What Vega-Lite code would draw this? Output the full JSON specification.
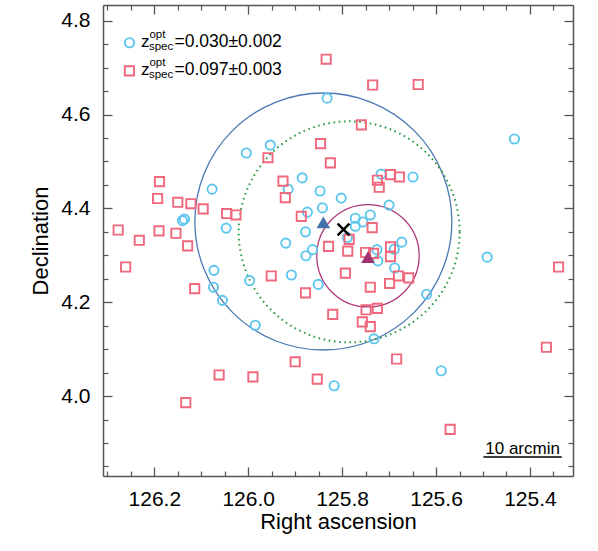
{
  "$schema": "https://vega.github.io/schema/vega-lite/v6.json",
  "width": 470,
  "height": 471,
  "autosize": {"type": "none"},
  "padding": {"left": 103, "top": 5, "right": 25, "bottom": 75},
  "background": "white",
  "config": {"view": {"stroke": null}, "font": "Liberation Sans", "axis": {"grid": false}},
  "datasets": {
    "galaxies": [
      {"kind": "low", "ra": 125.832, "dec": 4.635}, {"kind": "low", "ra": 125.433, "dec": 4.548}, {"kind": "low", "ra": 125.953, "dec": 4.535},
      {"kind": "low", "ra": 126.004, "dec": 4.518}, {"kind": "low", "ra": 125.885, "dec": 4.465}, {"kind": "low", "ra": 125.717, "dec": 4.473},
      {"kind": "low", "ra": 125.649, "dec": 4.467}, {"kind": "low", "ra": 125.915, "dec": 4.441}, {"kind": "low", "ra": 126.077, "dec": 4.441},
      {"kind": "low", "ra": 125.847, "dec": 4.437}, {"kind": "low", "ra": 125.802, "dec": 4.422}, {"kind": "low", "ra": 125.700, "dec": 4.407},
      {"kind": "low", "ra": 125.842, "dec": 4.401}, {"kind": "low", "ra": 125.874, "dec": 4.392}, {"kind": "low", "ra": 126.136, "dec": 4.377},
      {"kind": "low", "ra": 126.140, "dec": 4.374}, {"kind": "low", "ra": 125.772, "dec": 4.379}, {"kind": "low", "ra": 125.740, "dec": 4.386},
      {"kind": "low", "ra": 125.756, "dec": 4.371}, {"kind": "low", "ra": 125.772, "dec": 4.362}, {"kind": "low", "ra": 126.047, "dec": 4.358},
      {"kind": "low", "ra": 125.878, "dec": 4.350}, {"kind": "low", "ra": 125.789, "dec": 4.338}, {"kind": "low", "ra": 125.673, "dec": 4.328},
      {"kind": "low", "ra": 125.920, "dec": 4.326}, {"kind": "low", "ra": 125.689, "dec": 4.313}, {"kind": "low", "ra": 125.726, "dec": 4.312},
      {"kind": "low", "ra": 125.863, "dec": 4.312}, {"kind": "low", "ra": 125.877, "dec": 4.299}, {"kind": "low", "ra": 125.724, "dec": 4.288},
      {"kind": "low", "ra": 125.491, "dec": 4.296}, {"kind": "low", "ra": 125.688, "dec": 4.273}, {"kind": "low", "ra": 126.073, "dec": 4.268},
      {"kind": "low", "ra": 125.908, "dec": 4.258}, {"kind": "low", "ra": 125.997, "dec": 4.246}, {"kind": "low", "ra": 125.851, "dec": 4.238},
      {"kind": "low", "ra": 126.074, "dec": 4.232}, {"kind": "low", "ra": 125.620, "dec": 4.217}, {"kind": "low", "ra": 126.055, "dec": 4.204},
      {"kind": "low", "ra": 125.985, "dec": 4.151}, {"kind": "low", "ra": 125.732, "dec": 4.122}, {"kind": "low", "ra": 125.589, "dec": 4.054},
      {"kind": "low", "ra": 125.817, "dec": 4.022},
      {"kind": "high", "ra": 125.834, "dec": 4.718}, {"kind": "high", "ra": 125.735, "dec": 4.663}, {"kind": "high", "ra": 125.638, "dec": 4.664},
      {"kind": "high", "ra": 125.759, "dec": 4.578}, {"kind": "high", "ra": 125.846, "dec": 4.538}, {"kind": "high", "ra": 125.958, "dec": 4.508},
      {"kind": "high", "ra": 125.825, "dec": 4.497}, {"kind": "high", "ra": 126.189, "dec": 4.457}, {"kind": "high", "ra": 125.926, "dec": 4.458},
      {"kind": "high", "ra": 125.725, "dec": 4.460}, {"kind": "high", "ra": 125.697, "dec": 4.472}, {"kind": "high", "ra": 125.678, "dec": 4.467},
      {"kind": "high", "ra": 125.721, "dec": 4.445}, {"kind": "high", "ra": 125.921, "dec": 4.423}, {"kind": "high", "ra": 126.193, "dec": 4.421},
      {"kind": "high", "ra": 126.150, "dec": 4.413}, {"kind": "high", "ra": 126.122, "dec": 4.410}, {"kind": "high", "ra": 126.096, "dec": 4.399},
      {"kind": "high", "ra": 125.887, "dec": 4.383}, {"kind": "high", "ra": 126.046, "dec": 4.389}, {"kind": "high", "ra": 126.026, "dec": 4.386},
      {"kind": "high", "ra": 125.736, "dec": 4.359}, {"kind": "high", "ra": 126.277, "dec": 4.354}, {"kind": "high", "ra": 126.190, "dec": 4.352},
      {"kind": "high", "ra": 126.154, "dec": 4.347}, {"kind": "high", "ra": 125.785, "dec": 4.334}, {"kind": "high", "ra": 126.232, "dec": 4.332},
      {"kind": "high", "ra": 126.129, "dec": 4.320}, {"kind": "high", "ra": 125.829, "dec": 4.319}, {"kind": "high", "ra": 125.788, "dec": 4.309},
      {"kind": "high", "ra": 125.697, "dec": 4.318}, {"kind": "high", "ra": 125.750, "dec": 4.306}, {"kind": "high", "ra": 125.733, "dec": 4.304},
      {"kind": "high", "ra": 125.697, "dec": 4.297}, {"kind": "high", "ra": 125.339, "dec": 4.275}, {"kind": "high", "ra": 126.261, "dec": 4.275},
      {"kind": "high", "ra": 125.793, "dec": 4.262}, {"kind": "high", "ra": 125.951, "dec": 4.256}, {"kind": "high", "ra": 125.680, "dec": 4.256},
      {"kind": "high", "ra": 125.658, "dec": 4.252}, {"kind": "high", "ra": 125.699, "dec": 4.240}, {"kind": "high", "ra": 125.740, "dec": 4.232},
      {"kind": "high", "ra": 126.114, "dec": 4.229}, {"kind": "high", "ra": 125.878, "dec": 4.220}, {"kind": "high", "ra": 125.749, "dec": 4.184},
      {"kind": "high", "ra": 125.725, "dec": 4.187}, {"kind": "high", "ra": 125.820, "dec": 4.174}, {"kind": "high", "ra": 125.757, "dec": 4.158},
      {"kind": "high", "ra": 125.740, "dec": 4.148}, {"kind": "high", "ra": 125.365, "dec": 4.104}, {"kind": "high", "ra": 125.900, "dec": 4.073},
      {"kind": "high", "ra": 125.684, "dec": 4.079}, {"kind": "high", "ra": 126.062, "dec": 4.045}, {"kind": "high", "ra": 125.990, "dec": 4.041},
      {"kind": "high", "ra": 125.853, "dec": 4.036}, {"kind": "high", "ra": 126.133, "dec": 3.986}, {"kind": "high", "ra": 125.570, "dec": 3.929}
    ],
    "regions": [
      {"name": "blue", "ra": 125.840, "dec": 4.372},
      {"name": "green", "ra": 125.785, "dec": 4.350},
      {"name": "magenta", "ra": 125.745, "dec": 4.299}
    ],
    "markers": [
      {"name": "blue", "ra": 125.840, "dec": 4.370},
      {"name": "magenta", "ra": 125.745, "dec": 4.296},
      {"name": "x", "ra": 125.797, "dec": 4.355}
    ],
    "legend": [
      {"kind": "low", "ra": 126.253, "dec": 4.753, "val": "=0.030±0.002"},
      {"kind": "high", "ra": 126.253, "dec": 4.693, "val": "=0.097±0.003"}
    ],
    "scalebar": [
      {"ra": 125.4990, "ra2": 125.3323, "rac": 125.4157, "dec": 3.870, "label": "10 arcmin"}
    ]
  },
  "encoding": {
    "x": {"field": "ra", "type": "quantitative", "scale": {"domain": [125.3083, 126.3093], "reverse": true, "nice": false, "zero": false}, "axis": null},
    "y": {"field": "dec", "type": "quantitative", "scale": {"domain": [3.8296, 4.8335], "nice": false, "zero": false}, "axis": null}
  },
  "layer": [
    {
      "data": {"name": "regions"},
      "transform": [{"filter": "datum.name === 'blue'"}],
      "mark": {"type": "point", "shape": "circle", "filled": false, "size": 66049, "stroke": "#4a78b4", "strokeWidth": 1.3, "opacity": 1},
      "encoding": {
        "x": {"field": "ra", "type": "quantitative", "scale": {"domain": [125.3083, 126.3093], "reverse": true, "nice": false, "zero": false},
          "axis": {"orient": "bottom", "values": [126.2, 126.0, 125.8, 125.6, 125.4],
            "labels": false, "domain": false, "ticks": true, "tickColor": "#555", "tickWidth": 1.3, "tickSize": -9, "title": null, "grid": false}},
        "y": {"field": "dec", "type": "quantitative", "scale": {"domain": [3.8296, 4.8335], "nice": false, "zero": false},
          "axis": {"orient": "left", "values": [4.0, 4.2, 4.4, 4.6, 4.8],
            "labels": false, "domain": false, "ticks": true, "tickColor": "#555", "tickWidth": 1.3, "tickSize": -9, "title": null, "grid": false}}
      }
    },
    {
      "data": {"name": "regions"},
      "transform": [{"filter": "datum.name === 'green'"}],
      "mark": {"type": "point", "shape": "circle", "filled": false, "size": 48841, "stroke": "#2e9a44", "strokeWidth": 2, "strokeDash": [1.6, 3.6], "opacity": 1},
      "encoding": {
        "x": {"field": "ra", "type": "quantitative", "scale": {"domain": [125.3083, 126.3093], "reverse": true, "nice": false, "zero": false},
          "axis": {"orient": "top", "values": [126.2, 126.0, 125.8, 125.6, 125.4],
            "labels": false, "domain": true, "domainColor": "#555", "domainWidth": 1.5, "ticks": true, "tickColor": "#555", "tickWidth": 1.3, "tickSize": -9, "title": null, "grid": false}},
        "y": {"field": "dec", "type": "quantitative", "scale": {"domain": [3.8296, 4.8335], "nice": false, "zero": false},
          "axis": {"orient": "right", "values": [4.0, 4.2, 4.4, 4.6, 4.8],
            "labels": false, "domain": true, "domainColor": "#555", "domainWidth": 1.5, "ticks": true, "tickColor": "#555", "tickWidth": 1.3, "tickSize": -9, "title": null, "grid": false}}
      }
    },
    {
      "data": {"name": "regions"},
      "transform": [{"filter": "datum.name === 'magenta'"}],
      "mark": {"type": "point", "shape": "circle", "filled": false, "size": 10486, "stroke": "#b03a7c", "strokeWidth": 1.3, "opacity": 1},
      "encoding": {
        "x": {"field": "ra", "type": "quantitative", "scale": {"domain": [125.3083, 126.3093], "reverse": true, "nice": false, "zero": false},
          "axis": {"orient": "bottom", "values": [126.3, 126.25, 126.15, 126.1, 126.05, 125.95, 125.9, 125.85, 125.75, 125.7, 125.65, 125.55, 125.5, 125.45, 125.35],
            "labels": false, "domain": false, "ticks": true, "tickColor": "#555", "tickWidth": 1.2, "tickSize": -5, "title": null, "grid": false}},
        "y": {"field": "dec", "type": "quantitative", "scale": {"domain": [3.8296, 4.8335], "nice": false, "zero": false},
          "axis": {"orient": "left", "values": [3.85, 3.9, 3.95, 4.05, 4.1, 4.15, 4.25, 4.3, 4.35, 4.45, 4.5, 4.55, 4.65, 4.7, 4.75],
            "labels": false, "domain": false, "ticks": true, "tickColor": "#555", "tickWidth": 1.2, "tickSize": -5, "title": null, "grid": false}}
      }
    },
    {
      "data": {"name": "galaxies"},
      "transform": [{"filter": "datum.kind === 'low'"}],
      "mark": {"type": "point", "shape": "circle", "filled": false, "size": 85, "stroke": "#5cc6ee", "strokeWidth": 1.9, "opacity": 1},
      "encoding": {
        "x": {"field": "ra", "type": "quantitative", "scale": {"domain": [125.3083, 126.3093], "reverse": true, "nice": false, "zero": false},
          "axis": {"orient": "bottom", "values": [126.2, 126.0, 125.8, 125.6, 125.4], "format": ".1f", "ticks": false, "domain": true, "domainColor": "#555", "domainWidth": 1.5,
            "labelFontSize": 21, "labelColor": "black", "labelPadding": 12, "labelFont": "Liberation Sans", "labelFlush": false, "labelOverlap": false,
            "title": "Right ascension", "titleFontSize": 22, "titleFontWeight": "normal", "titleColor": "black", "titleFont": "Liberation Sans", "titlePadding": 2, "grid": false}},
        "y": {"field": "dec", "type": "quantitative", "scale": {"domain": [3.8296, 4.8335], "nice": false, "zero": false},
          "axis": {"orient": "left", "values": [4.0, 4.2, 4.4, 4.6, 4.8], "format": ".1f", "ticks": false, "domain": true, "domainColor": "#555", "domainWidth": 1.5,
            "labelFontSize": 21, "labelColor": "black", "labelPadding": 13, "labelFont": "Liberation Sans", "labelFlush": false, "labelOverlap": false,
            "title": "Declination", "titleFontSize": 22, "titleFontWeight": "normal", "titleColor": "black", "titleFont": "Liberation Sans", "titlePadding": 8, "grid": false}}
      }
    },
    {
      "data": {"name": "galaxies"},
      "transform": [{"filter": "datum.kind === 'high'"}],
      "mark": {"type": "point", "shape": "square", "filled": false, "size": 85, "stroke": "#f0687c", "strokeWidth": 1.9, "opacity": 1},
      "encoding": {
        "x": {"field": "ra", "type": "quantitative", "scale": {"domain": [125.3083, 126.3093], "reverse": true, "nice": false, "zero": false},
          "axis": {"orient": "top", "values": [126.3, 126.25, 126.15, 126.1, 126.05, 125.95, 125.9, 125.85, 125.75, 125.7, 125.65, 125.55, 125.5, 125.45, 125.35],
            "labels": false, "domain": false, "ticks": true, "tickColor": "#555", "tickWidth": 1.2, "tickSize": -5, "title": null, "grid": false}},
        "y": {"field": "dec", "type": "quantitative", "scale": {"domain": [3.8296, 4.8335], "nice": false, "zero": false},
          "axis": {"orient": "right", "values": [3.85, 3.9, 3.95, 4.05, 4.1, 4.15, 4.25, 4.3, 4.35, 4.45, 4.5, 4.55, 4.65, 4.7, 4.75],
            "labels": false, "domain": false, "ticks": true, "tickColor": "#555", "tickWidth": 1.2, "tickSize": -5, "title": null, "grid": false}}
      }
    },
    {
      "data": {"name": "markers"},
      "transform": [{"filter": "datum.name === 'blue'"}],
      "mark": {"type": "point", "shape": "triangle-up", "filled": true, "size": 185, "color": "#4472ad", "opacity": 1}
    },
    {
      "data": {"name": "markers"},
      "transform": [{"filter": "datum.name === 'magenta'"}],
      "mark": {"type": "point", "shape": "triangle-up", "filled": true, "size": 185, "color": "#a22f6f", "opacity": 1}
    },
    {
      "data": {"name": "markers"},
      "transform": [{"filter": "datum.name === 'x'"}],
      "mark": {"type": "point", "shape": "M-1,-1L1,1M-1,1L1,-1", "filled": false, "size": 140, "stroke": "black", "strokeWidth": 2.5, "opacity": 1}
    },
    {
      "data": {"name": "legend"},
      "transform": [{"filter": "datum.kind === 'low'"}],
      "mark": {"type": "point", "shape": "circle", "filled": false, "size": 85, "stroke": "#5cc6ee", "strokeWidth": 1.9, "opacity": 1}
    },
    {
      "data": {"name": "legend"},
      "transform": [{"filter": "datum.kind === 'high'"}],
      "mark": {"type": "point", "shape": "square", "filled": false, "size": 85, "stroke": "#f0687c", "strokeWidth": 1.9, "opacity": 1}
    },
    {
      "data": {"name": "legend"},
      "mark": {"type": "text", "text": "z", "align": "left", "baseline": "alphabetic", "dx": 11.5, "dy": 4.5, "fontSize": 17, "font": "Liberation Sans", "color": "black"}
    },
    {
      "data": {"name": "legend"},
      "mark": {"type": "text", "text": "opt", "align": "left", "baseline": "alphabetic", "dx": 20, "dy": -4.5, "fontSize": 11.5, "font": "Liberation Sans", "color": "black"}
    },
    {
      "data": {"name": "legend"},
      "mark": {"type": "text", "text": "spec", "align": "left", "baseline": "alphabetic", "dx": 19.5, "dy": 7.5, "fontSize": 11.5, "font": "Liberation Sans", "color": "black"}
    },
    {
      "data": {"name": "legend"},
      "mark": {"type": "text", "align": "left", "baseline": "alphabetic", "dx": 45, "dy": 4.5, "fontSize": 17.5, "font": "Liberation Sans", "color": "black"},
      "encoding": {"text": {"field": "val"}}
    },
    {
      "data": {"name": "scalebar"},
      "mark": {"type": "rule", "color": "black", "strokeWidth": 1.5},
      "encoding": {"x2": {"field": "ra2"}}
    },
    {
      "data": {"name": "scalebar"},
      "mark": {"type": "text", "align": "center", "baseline": "alphabetic", "dy": -3.5, "fontSize": 17, "font": "Liberation Sans", "color": "black"},
      "encoding": {
        "x": {"field": "rac", "type": "quantitative", "scale": {"domain": [125.3083, 126.3093], "reverse": true, "nice": false, "zero": false}, "axis": null},
        "text": {"field": "label"}
      }
    }
  ],
  "resolve": {"axis": {"x": "independent", "y": "independent"}}
}
